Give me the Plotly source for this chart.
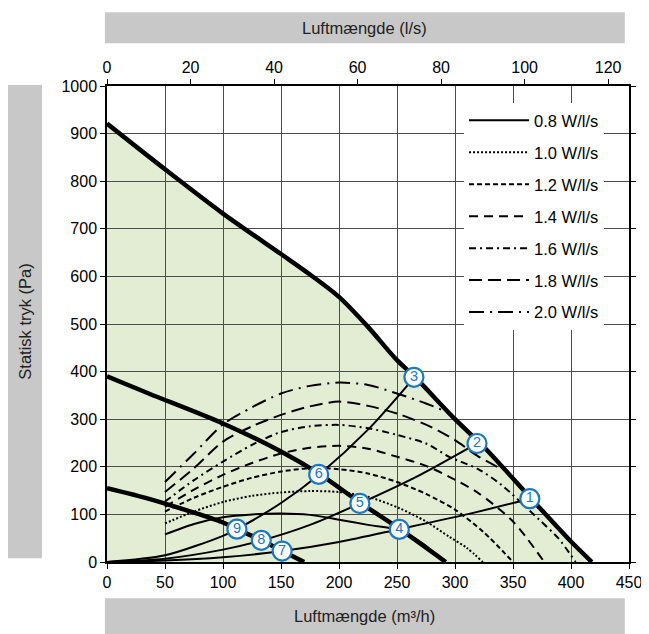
import plotly.graph_objects as go

# ---------------- data ----------------
x_ticks = [0, 50, 100, 150, 200, 250, 300, 350, 400, 450]
y_ticks = [0, 100, 200, 300, 400, 500, 600, 700, 800, 900, 1000]
ls_ticks = [0, 20, 40, 60, 80, 100, 120]

# outer (max) fan curve
q_outer = [0, 50, 100, 150, 175, 200, 225, 250, 265, 300, 326, 365, 400, 418]
p_outer = [921, 825, 732, 647, 604, 557, 494, 424, 390, 300, 239, 135, 43, 0]
# middle fan curve
q_mid = [0, 37, 100, 150, 183, 218, 252, 292]
p_mid = [390, 353, 291, 232, 185, 125, 70, 0]
# low fan curve
q_low = [0, 37, 100, 112, 133, 151, 170]
p_low = [155, 132, 83, 69, 46, 23, 0]

# system curves (thin solid from origin)
q_sysA = [0, 50, 100, 112, 150, 183, 225, 265]
p_sysA = [0, 14, 55, 69, 124, 184, 278, 388]
q_sysB = [0, 50, 100, 133, 175, 218, 270, 319]
p_sysB = [0, 7, 26, 45, 78, 123, 183, 249]
q_sysC = [0, 50, 100, 151, 200, 252, 310, 365]
p_sysC = [0, 3, 10, 23, 42, 69, 100, 133]

# specific fan power curves
sfp_names = ["0.8 W/l/s", "1.0 W/l/s", "1.2 W/l/s", "1.4 W/l/s",
             "1.6 W/l/s", "1.8 W/l/s", "2.0 W/l/s"]
q_w08 = [50, 75, 100, 125, 150, 175, 200, 225, 252, 272, 291]
p_w08 = [58, 80, 94, 100, 102, 99, 89, 78, 67, 39, 0]
q_w10 = [50, 75, 100, 125, 150, 175, 200, 225, 252, 275, 295, 310, 324]
p_w10 = [81, 106, 126, 139, 146, 149, 147, 137, 113, 85, 53, 30, 0]
q_w12 = [50, 75, 100, 125, 150, 175, 200, 225, 250, 275, 300, 325, 350]
p_w12 = [106, 135, 158, 177, 190, 197, 195, 186, 168, 143, 110, 62, 0]
q_w14 = [50, 75, 100, 125, 150, 175, 200, 225, 250, 275, 295, 320, 350, 377]
p_w14 = [116, 152, 183, 208, 228, 240, 244, 238, 221, 202, 179, 145, 85, 0]
q_w16 = [50, 75, 100, 125, 150, 175, 200, 225, 250, 275, 295, 320, 340, 373, 389, 404]
p_w16 = [127, 172, 211, 246, 273, 285, 288, 281, 267, 249, 221, 195, 162, 88, 50, 0]
q_w18 = [50, 75, 100, 125, 150, 175, 200, 225, 250, 280, 300, 320, 338]
p_w18 = [147, 197, 253, 285, 309, 327, 337, 328, 312, 283, 256, 222, 198]
q_w20 = [50, 75, 100, 125, 150, 175, 200, 225, 250, 275, 295, 302]
p_w20 = [168, 228, 289, 325, 354, 370, 377, 372, 354, 333, 312, 298]

# numbered operating points
pt_q = [364.5, 319, 264.6, 252, 218, 182.5, 151, 133, 112]
pt_p = [133, 249, 388, 68.5, 123, 184, 23, 45.5, 69]
pt_labels = ["1", "2", "3", "4", "5", "6", "7", "8", "9"]

# ---------------- styling ----------------
FONT = "Liberation Sans, Arial, Helvetica, sans-serif"
BLUE = "#1b78bf"
GREEN = "#e3edd4"
GRID = "#4d4d4d"
BAR = "#c8c8c8"

fig = go.Figure()

sfp_q = [q_w08, q_w10, q_w12, q_w14, q_w16, q_w18, q_w20]
sfp_p = [p_w08, p_w10, p_w12, p_w14, p_w16, p_w18, p_w20]
sfp_dash = ["solid", "2px,2px", "5px,3px", "9px,6px",
            "7px,4px,2px,4px", "13px,6px", "15px,6px,2px,6px"]

for i, (qq, pp) in enumerate(zip(sfp_q, sfp_p)):
    fig.add_trace(go.Scatter(
        x=qq, y=pp, mode="lines", name=sfp_names[i],
        legendgroup=f"g{i}",
        line=dict(color="black", width=2, dash=sfp_dash[i], shape="spline", smoothing=0.8),
        hoverinfo="skip"))

for qq, pp in [(q_sysA, p_sysA), (q_sysB, p_sysB), (q_sysC, p_sysC)]:
    fig.add_trace(go.Scatter(
        x=qq, y=pp, mode="lines", showlegend=False,
        line=dict(color="black", width=2, shape="spline", smoothing=0.8),
        hoverinfo="skip"))

for qq, pp in [(q_outer, p_outer), (q_mid, p_mid), (q_low, p_low)]:
    fig.add_trace(go.Scatter(
        x=qq, y=pp, mode="lines", showlegend=False,
        line=dict(color="black", width=4.5, shape="spline", smoothing=0.8),
        hoverinfo="skip"))

fig.add_trace(go.Scatter(
    x=pt_q, y=pt_p, mode="markers+text", text=pt_labels,
    textposition="middle center", showlegend=False,
    textfont=dict(family=FONT, size=14.5, color=BLUE),
    marker=dict(size=19, color="white", line=dict(color=BLUE, width=2.2)),
    hoverinfo="skip"))

# invisible trace to bring up the l/s top axis
fig.add_trace(go.Scatter(x=[0, 125], y=[0, 0], xaxis="x2", mode="lines",
                         line=dict(width=0), showlegend=False, hoverinfo="skip"))

# green operating area (below grid)
path = "M " + " L ".join(f"{q},{p}" for q, p in zip([0] + q_outer, [0] + p_outer)) + " Z"
fig.add_shape(type="path", path=path, xref="x", yref="y",
              fillcolor=GREEN, line=dict(width=0), layer="below")

# grey title bars
fig.add_shape(type="rect", xref="paper", yref="paper",
              x0=-0.004, x1=0.992, y0=1.090, y1=1.155,
              fillcolor=BAR, line=dict(width=0))
fig.add_shape(type="rect", xref="paper", yref="paper",
              x0=-0.004, x1=0.992, y0=-0.151, y1=-0.076,
              fillcolor=BAR, line=dict(width=0))
fig.add_shape(type="rect", xref="paper", yref="paper",
              x0=-0.190, x1=-0.1245, y0=0.008, y1=1.002,
              fillcolor=BAR, line=dict(width=0))

fig.add_annotation(text="Luftmængde (l/s)", xref="paper", yref="paper",
                   x=0.494, y=1.1225, showarrow=False,
                   xanchor="center", yanchor="middle",
                   font=dict(family=FONT, size=16.5, color="#222"))
fig.add_annotation(text="Luftmængde (m³/h)", xref="paper", yref="paper",
                   x=0.494, y=-0.1135, showarrow=False,
                   xanchor="center", yanchor="middle",
                   font=dict(family=FONT, size=16.5, color="#222"))
fig.add_annotation(text="Statisk tryk (Pa)", xref="paper", yref="paper",
                   x=-0.157, y=0.505, showarrow=False, textangle=-90,
                   xanchor="center", yanchor="middle",
                   font=dict(family=FONT, size=16.5, color="#222"))

fig.update_layout(
    width=649, height=634,
    margin=dict(l=99, r=28, t=78, b=80),
    paper_bgcolor="white", plot_bgcolor="white",
    font=dict(family=FONT, size=16, color="black"),
    showlegend=True,
    legend=dict(x=0.684, y=0.964, xanchor="left", yanchor="top",
                bgcolor="white", borderwidth=0, itemwidth=60,
                tracegroupgap=7.5, font=dict(family=FONT, size=16.5, color="black")),
    xaxis=dict(range=[0, 450], tickvals=x_ticks, showgrid=True, gridcolor=GRID,
               gridwidth=1, showline=True, linecolor="black", linewidth=1.5,
               ticks="outside", ticklen=5, tickcolor="black", zeroline=False,
               tickfont=dict(family=FONT, size=16)),
    xaxis2=dict(range=[0, 125], tickvals=ls_ticks, overlaying="x", side="top",
                showgrid=False, showline=True, linecolor="black", linewidth=1.5,
                ticks="outside", ticklen=5, tickcolor="black", zeroline=False,
                tickfont=dict(family=FONT, size=16)),
    yaxis=dict(range=[0, 1000], tickvals=y_ticks, showgrid=True, gridcolor=GRID,
               gridwidth=1, showline=True, linecolor="black", linewidth=1.5,
               mirror="ticks", ticks="outside", ticklen=5, tickcolor="black",
               zeroline=False, tickfont=dict(family=FONT, size=16)),
)

fig.write_html("out.html")
